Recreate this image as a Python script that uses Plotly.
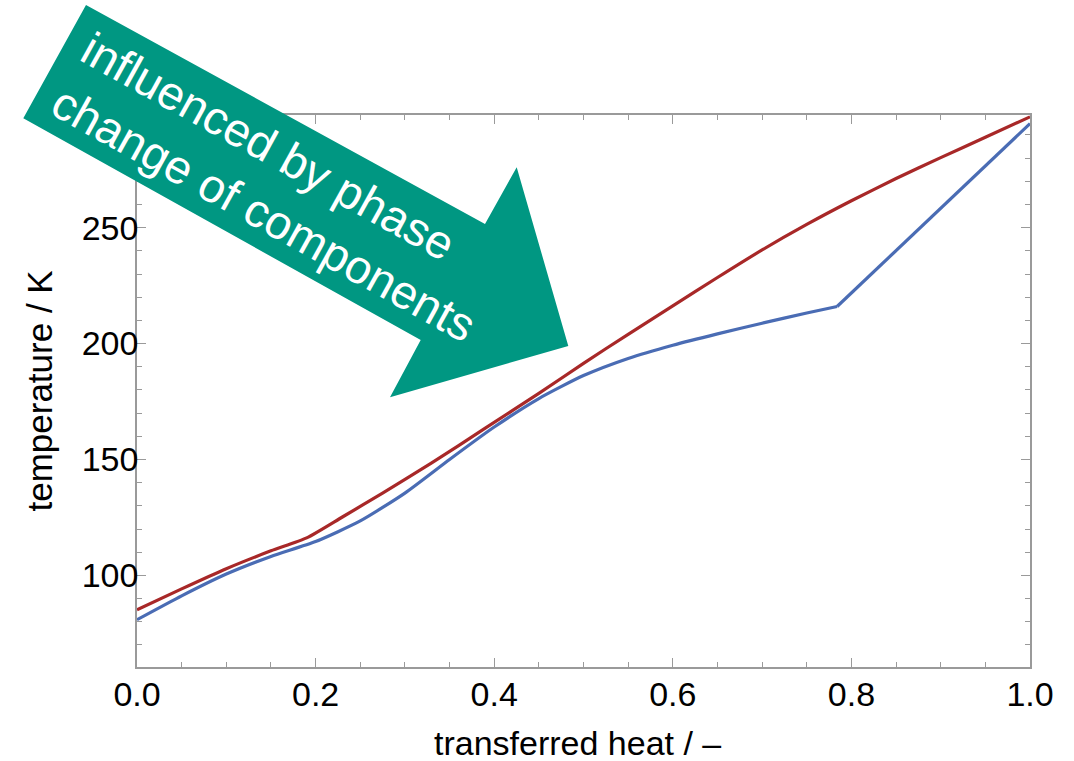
import plotly.graph_objects as go

# ---- data ----
heat_red = [0.0, 0.05, 0.1, 0.15, 0.19, 0.23, 0.275, 0.33, 0.39, 0.45, 0.5, 0.55,
            0.6, 0.65, 0.7, 0.75, 0.8, 0.85, 0.9, 0.95, 1.0]
temp_red = [85.2, 94.2, 102.9, 110.6, 116.2, 125.2, 135.5, 148.5, 163.5, 178.5, 191.5, 204.0,
            216.3, 228.5, 240.4, 251.4, 261.6, 271.2, 280.2, 289.0, 297.8]

heat_blue = [0.0, 0.05, 0.1, 0.15, 0.2, 0.25, 0.3, 0.35, 0.4, 0.45, 0.5, 0.55,
             0.6, 0.65, 0.7, 0.75, 0.784, 1.0]
temp_blue = [80.9, 91.2, 100.6, 108.2, 114.6, 123.5, 135.5, 150.0, 164.0, 176.3, 186.2, 193.6,
             199.3, 204.2, 208.8, 213.2, 216.0, 294.9]
blue_kink = 16  # index of the sharp bend (0.784) after which the curve is straight

x_ticks = [0.0, 0.2, 0.4, 0.6, 0.8, 1.0]
y_ticks = [100, 150, 200, 250]
x_title = "transferred heat / –"
y_title = "temperature / K"
arrow_text = "influenced by phase<br>change of components"

# ---- layout geometry ----
W, H = 1074, 761
L, R, T, B = 137, 44, 115, 94
PW, PH = W - L - R, H - T - B


def px(xp, yp):
    """pixel position on the page -> paper coordinates"""
    return (xp - L) / PW, (H - B - yp) / PH


FONT = "Liberation Sans, Arial, sans-serif"
FRAME = "#9a9a9a"
RED = "#A82828"
BLUE = "#4A6CB4"
TEAL = "#009782"

fig = go.Figure()
fig.add_trace(go.Scatter(x=heat_red, y=temp_red, mode="lines",
                         line=dict(color=RED, width=3.2, shape="spline", smoothing=0.6),
                         showlegend=False))
# blue: smooth part up to the bend, then the straight part
fig.add_trace(go.Scatter(x=heat_blue[:blue_kink + 1], y=temp_blue[:blue_kink + 1], mode="lines",
                         line=dict(color=BLUE, width=3.2, shape="spline", smoothing=0.6),
                         showlegend=False))
fig.add_trace(go.Scatter(x=heat_blue[blue_kink:], y=temp_blue[blue_kink:], mode="lines",
                         line=dict(color=BLUE, width=3.2), showlegend=False))

axis_common = dict(
    showgrid=False, zeroline=False, showline=True, linecolor=FRAME, linewidth=1.5,
    mirror="ticks", ticks="inside", ticklen=9, tickwidth=1.2, tickcolor=FRAME,
    tickfont=dict(family=FONT, size=34, color="black"),
)

fig.update_xaxes(range=[0, 1], tickvals=x_ticks, tickformat=".1f", ticklabelstandoff=-4,
                 minor=dict(dtick=0.05, tick0=0, ticks="inside", ticklen=5.5,
                            tickwidth=1.2, tickcolor=FRAME, showgrid=False),
                 **axis_common)
fig.update_yaxes(range=[60.5, 298.6], tickvals=y_ticks, ticklabelstandoff=-10,
                 minor=dict(dtick=10, tick0=0, ticks="inside", ticklen=5.5,
                            tickwidth=1.2, tickcolor=FRAME, showgrid=False),
                 **axis_common)

# ---- arrow callout ----
arrow_px = [(86, 5), (485, 224), (516.7, 167.3), (568.3, 346), (390, 397.3),
            (420.7, 340), (23.3, 118.3)]
pts = [px(a, b) for a, b in arrow_px]
path = "M " + " L ".join(f"{a:.5f},{b:.5f}" for a, b in pts) + " Z"
fig.add_shape(type="path", path=path, xref="paper", yref="paper",
              fillcolor=TEAL, line=dict(width=0), layer="above")

cx, cy = px(279, 187)
fig.add_annotation(x=cx, y=cy, xref="paper", yref="paper", text=arrow_text,
                   showarrow=False, textangle=29, xanchor="center", yanchor="middle",
                   align="left", font=dict(family=FONT, size=47, color="white"))

# ---- axis titles ----
fig.add_annotation(x=0.493, y=0, xref="paper", yref="paper", yshift=-76,
                   text=x_title, showarrow=False, xanchor="center", yanchor="middle",
                   font=dict(family=FONT, size=34, color="black"))
fig.add_annotation(x=0, y=0.499, xref="paper", yref="paper", xshift=-97,
                   text=y_title, showarrow=False, textangle=-90,
                   xanchor="center", yanchor="middle",
                   font=dict(family=FONT, size=35, color="black"))

fig.update_layout(width=W, height=H, margin=dict(l=L, r=R, t=T, b=B),
                  paper_bgcolor="white", plot_bgcolor="white",
                  font=dict(family=FONT))

fig.write_html("out.html", config={"displayModeBar": False},
               post_script="document.body.style.margin='0';")
